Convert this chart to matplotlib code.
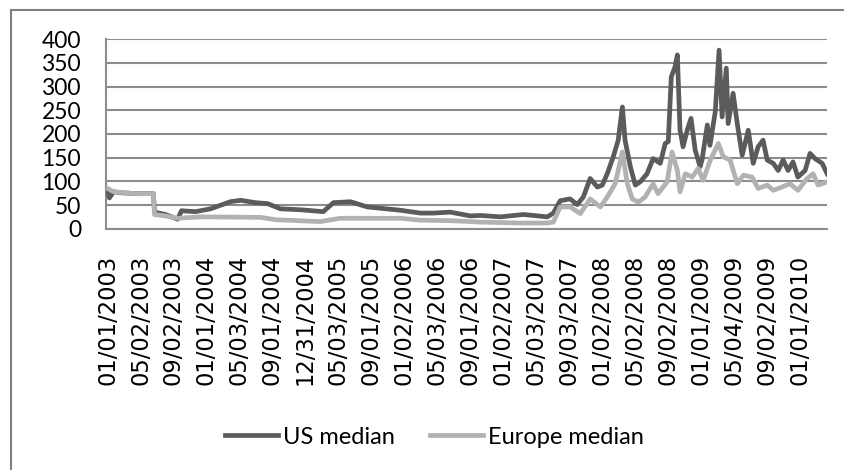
import matplotlib.pyplot as plt
from matplotlib.lines import Line2D

# trading-day positions (business days since 01/01/2003) and values
us_days = [0, 5, 16, 34, 74, 121, 124, 153, 185, 195, 232, 272, 324, 351, 390, 422,
           456, 509, 569, 596, 641, 685, 772, 825, 859, 904, 957, 983, 1036, 1097,
           1123, 1160, 1176, 1194, 1220, 1239, 1255, 1273, 1292, 1305, 1318, 1334,
           1347, 1358, 1365, 1379, 1392, 1405, 1423, 1439, 1458, 1471, 1479, 1487,
           1497, 1503, 1510, 1518, 1529, 1539, 1550, 1563, 1568, 1582, 1589, 1603,
           1613, 1621, 1632, 1637, 1650, 1661, 1674, 1690, 1703, 1716, 1729, 1740,
           1756, 1769, 1782, 1795, 1808, 1821, 1840, 1853, 1866, 1885, 1898]
us_median = [80, 65, 78, 76, 74, 74, 35, 30, 20, 38, 36, 42, 57, 60, 55, 53,
             42, 40, 36, 55, 57, 46, 39, 33, 33, 35, 27, 28, 25, 30,
             28, 25, 33, 59, 63, 51, 67, 106, 88, 92, 116, 152,
             187, 257, 187, 131, 92, 99, 116, 148, 138, 180, 184, 321,
             342, 367, 208, 173, 208, 233, 166, 131, 145, 219, 176, 247,
             377, 236, 339, 222, 286, 222, 155, 208, 138, 173, 187, 145,
             138, 123, 145, 123, 141, 109, 123, 159, 148, 138, 116]

eu_days = [0, 16, 74, 121, 124, 153, 185, 245, 403, 443, 561, 614, 772, 825, 904,
           983, 1089, 1160, 1176, 1194, 1220, 1247, 1273, 1300, 1318, 1339, 1358,
           1371, 1384, 1400, 1418, 1439, 1452, 1476, 1489, 1503, 1510, 1524, 1542,
           1558, 1571, 1590, 1611, 1624, 1642, 1661, 1677, 1700, 1716, 1740, 1756,
           1779, 1800, 1821, 1845, 1861, 1874, 1898]
europe_median = [85, 78, 74, 74, 30, 27, 22, 25, 24, 19, 15, 22, 22, 18, 17,
                 14, 12, 12, 14, 46, 46, 32, 63, 46, 67, 95, 162,
                 95, 63, 56, 67, 95, 74, 99, 162, 123, 78, 116, 109,
                 127, 102, 145, 180, 152, 145, 95, 113, 109, 85, 92, 81,
                 88, 95, 81, 106, 116, 92, 99]

# category labels Excel shows, one every 87 trading days
tick_step = 87
tick_labels = ['01/01/2003', '05/02/2003', '09/02/2003', '01/01/2004', '05/03/2004',
               '09/01/2004', '12/31/2004', '05/03/2005', '09/01/2005', '01/02/2006',
               '05/03/2006', '09/01/2006', '01/02/2007', '05/03/2007', '09/03/2007',
               '01/02/2008', '05/02/2008', '09/02/2008', '01/01/2009', '05/04/2009',
               '09/02/2009', '01/01/2010']

US_COLOR = '#5b5b5b'
EU_COLOR = '#b2b2b2'
GRID_COLOR = '#8c8c8c'

fig = plt.figure(figsize=(8.44, 4.70), dpi=100)
ax = fig.add_axes([0.1256, 0.5134, 0.8544, 0.403])

ax.plot(us_days, us_median, color=US_COLOR, lw=3.4, solid_joinstyle='round', zorder=3)
ax.plot(eu_days, europe_median, color=EU_COLOR, lw=3.4, solid_joinstyle='round', zorder=4)

ax.set_ylim(0, 400)
ax.set_yticks(range(0, 401, 50))
ax.set_xlim(-4, 1898)
ax.set_xticks([i * tick_step for i in range(len(tick_labels))])
ax.set_xticklabels(tick_labels, rotation=90, family='DejaVu Sans', fontsize=16.3)
for lab in ax.get_yticklabels():
    lab.set_family(['Lato', 'DejaVu Sans'])
    lab.set_fontsize(16.5)

ax.yaxis.grid(True, color=GRID_COLOR, lw=1.5)
ax.set_axisbelow(True)
ax.tick_params(axis='both', length=0)
ax.tick_params(axis='y', pad=18)
ax.tick_params(axis='x', pad=18.5)
for side in ['top', 'right']:
    ax.spines[side].set_visible(False)
for side in ['left', 'bottom']:
    ax.spines[side].set_color(GRID_COLOR)
    ax.spines[side].set_linewidth(1.5)

handles = [Line2D([], [], color=US_COLOR, lw=3.4),
           Line2D([], [], color=EU_COLOR, lw=3.4)]
fig.legend(handles, ['US median', 'Europe median'], loc='center',
           bbox_to_anchor=(0.515, 0.07), ncol=2, frameon=False,
           prop={'family': ['Lato', 'DejaVu Sans'], 'size': 17},
           handlelength=2.25, handletextpad=0.2, columnspacing=1.5)

# outer chart frame (only left and top edges are visible in the crop)
fig.add_artist(Line2D([11 / 844, 11 / 844], [0, 1 - 10 / 470], transform=fig.transFigure,
                      color='#808080', lw=1.5))
fig.add_artist(Line2D([11 / 844, 1], [1 - 10 / 470, 1 - 10 / 470], transform=fig.transFigure,
                      color='#808080', lw=1.5))

fig.savefig('out.png', dpi=100)
